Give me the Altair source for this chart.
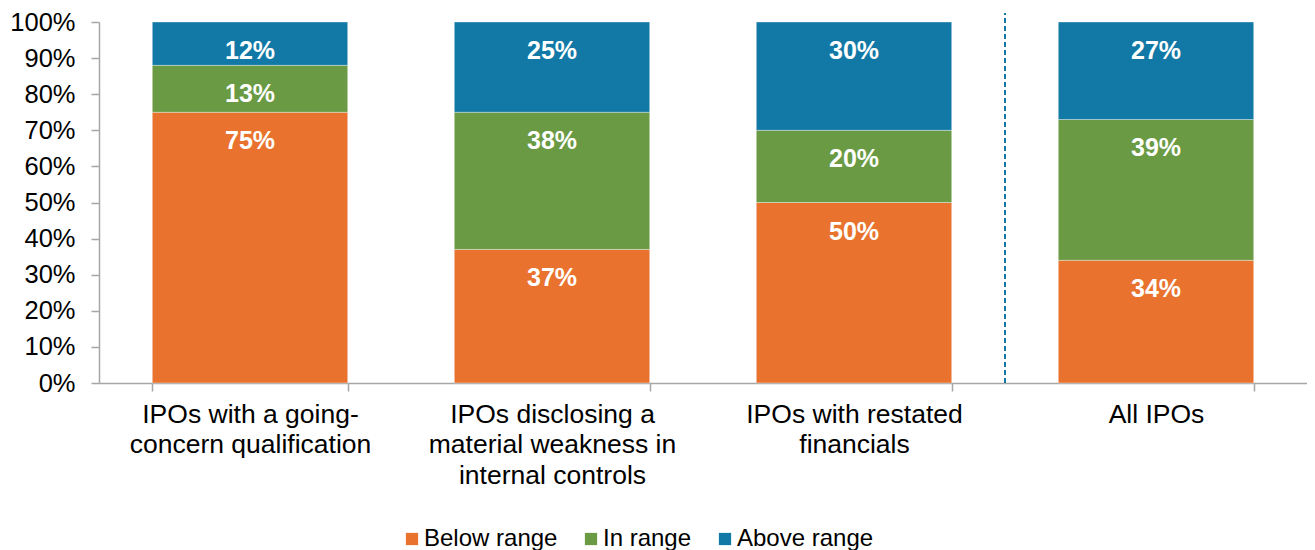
import altair as alt
import pandas as pd

categories = [
    "IPOs with a going-|concern qualification",
    "IPOs disclosing a|material weakness in|internal controls",
    "IPOs with restated|financials",
    "All IPOs",
]
series = ["Below range", "In range", "Above range"]
below = [0.75, 0.37, 0.50, 0.34]
in_range = [0.13, 0.38, 0.20, 0.39]
above = [0.12, 0.25, 0.30, 0.27]
colors = ["#E9732E", "#6A9A43", "#1279A6"]
y_ticks = [0, 0.1, 0.2, 0.3, 0.4, 0.5, 0.6, 0.7, 0.8, 0.9, 1.0]
separator_at = "All IPOs"

rows = []
for i, cat in enumerate(categories):
    cum = 0.0
    for j, (name, vals) in enumerate(zip(series, [below, in_range, above])):
        v = vals[i]
        cum += v
        rows.append({"cat": cat, "series": name, "value": v, "order": j,
                     "top": cum, "label": f"{round(v * 100)}%"})
df = pd.DataFrame(rows)

sep_df = pd.DataFrame({"cat": [separator_at], "y0": [0.0], "y1": [1.025]})

FONT = "Liberation Sans"
W = 1208
P_IN = 0.353
P_OUT = P_IN / 2
STEP = W / (len(categories) - P_IN + 2 * P_OUT)

x_scale = alt.Scale(paddingInner=P_IN, paddingOuter=P_OUT)
x_axis = alt.Axis(title=None, labelAngle=0,
                  labelExpr="datum.value ? split(datum.value, '|') : ''",
                  tickBand="extent", tickSize=8, labelFontSize=26.5,
                  labelLineHeight=30.5, labelPadding=10, labelColor="#000000",
                  labelLimit=600, labelOverlap=False,
                  domainColor="#A6A6A6", tickColor="#A6A6A6", domainWidth=1.5,
                  tickWidth=1.5, labelFont=FONT)
y_scale = alt.Scale(domain=[0, 1], nice=False)
y_axis = alt.Axis(title=None, format=".0%", values=y_ticks, grid=False,
                  tickSize=8, labelFontSize=25.5, labelPadding=16,
                  labelOverlap=False, labelColor="#000000",
                  domainColor="#A6A6A6", tickColor="#A6A6A6",
                  domainWidth=1.5, tickWidth=1.5, labelFont=FONT)

bars = alt.Chart(df).mark_bar(stroke="white", strokeWidth=0.7, strokeOpacity=0.5).encode(
    x=alt.X("cat:N", sort=categories, scale=x_scale, axis=x_axis),
    y=alt.Y("value:Q", stack="zero", scale=y_scale, axis=y_axis),
    color=alt.Color("series:N", sort=series,
                    scale=alt.Scale(domain=series, range=colors),
                    legend=alt.Legend(title=None, orient="none", direction="horizontal",
                                      legendX=301, legendY=505, symbolType="square",
                                      symbolSize=150, symbolStrokeWidth=0,
                                      labelFontSize=24, labelFont=FONT,
                                      labelColor="#000000", labelOffset=0,
                                      columnPadding=21)),
    order=alt.Order("order:Q"),
)

labels = alt.Chart(df).mark_text(
    color="white", fontWeight="bold", fontSize=25, font=FONT, dy=29, baseline="middle"
).encode(
    x=alt.X("cat:N", sort=categories, scale=x_scale, axis=x_axis),
    y=alt.Y("top:Q", scale=y_scale, axis=y_axis),
    text="label:N",
)

sep = alt.Chart(sep_df).mark_rule(
    color="#1279A6", strokeDash=[5, 3], strokeWidth=2, xOffset=-P_IN / 2 * STEP
).encode(
    x=alt.X("cat:N", sort=categories, bandPosition=0, scale=x_scale, axis=x_axis),
    y=alt.Y("y0:Q", scale=y_scale, axis=y_axis),
    y2="y1:Q",
)

chart = alt.layer(bars, labels, sep).properties(
    width=W, height=361,
    autosize=alt.AutoSizeParams(type="none"),
    padding={"left": 91, "top": 14, "right": 0, "bottom": 172},
).configure_view(stroke=None)

chart.save("out.html", embed_options={"renderer": "svg", "actions": False})
